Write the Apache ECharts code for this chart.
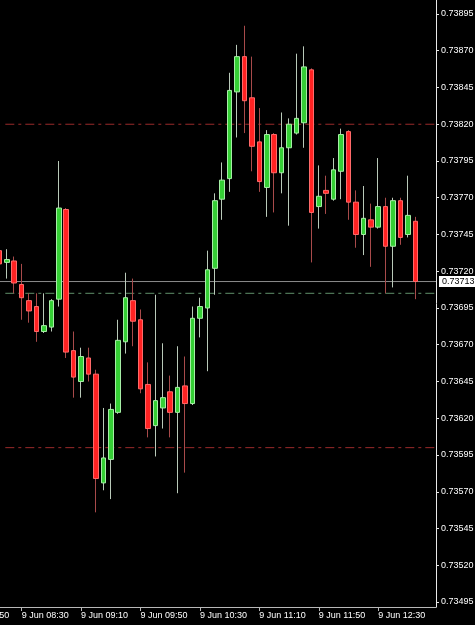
<!DOCTYPE html>
<html>
<head>
<meta charset="utf-8">
<script src="https://cdn.jsdelivr.net/npm/echarts@6/dist/echarts.min.js"></script>
<style>
html,body{margin:0;padding:0;background:#000;}
#c{width:475px;height:625px;}
</style>
</head>
<body>
<div id="c"></div>
<script>
// 5-minute bars, 9 Jun
const times = ['08:15','08:20','08:25','08:30','08:35','08:40','08:45','08:50','08:55','09:00',
  '09:05','09:10','09:15','09:20','09:25','09:30','09:35','09:40','09:45','09:50',
  '09:55','10:00','10:05','10:10','10:15','10:20','10:25','10:30','10:35','10:40',
  '10:45','10:50','10:55','11:00','11:05','11:10','11:15','11:20','11:25','11:30',
  '11:35','11:40','11:45','11:50','11:55','12:00','12:05','12:10','12:15','12:20',
  '12:25','12:30','12:35','12:40','12:45','12:50','12:55'];
const open = [0.73734,0.73726,0.73727,0.73711,0.73700,0.73696,0.73679,0.73682,0.73701,0.73762,
  0.73666,0.73645,0.73661,0.73650,0.73576,0.73592,0.73624,0.73672,0.73700,0.73687,
  0.73643,0.73615,0.73627,0.73638,0.73624,0.73642,0.73630,0.73688,0.73695,0.73722,
  0.73769,0.73783,0.73842,0.73866,0.73838,0.73808,0.73777,0.73813,0.73787,0.73804,
  0.73814,0.73821,0.73857,0.73764,0.73775,0.73769,0.73788,0.73815,0.73767,0.73745,
  0.73755,0.73750,0.73764,0.73737,0.73768,0.73745,0.73754];
const close = [0.73725,0.73728,0.73712,0.73702,0.73693,0.73679,0.73683,0.73700,0.73763,0.73665,
  0.73648,0.73662,0.73650,0.73579,0.73593,0.73626,0.73673,0.73702,0.73686,0.73640,
  0.73613,0.73632,0.73634,0.73624,0.73641,0.73630,0.73688,0.73696,0.73721,0.73768,
  0.73782,0.73843,0.73866,0.73836,0.73805,0.73781,0.73813,0.73787,0.73804,0.73820,
  0.73824,0.73859,0.73760,0.73771,0.73773,0.73789,0.73813,0.73767,0.73745,0.73756,
  0.73750,0.73764,0.73737,0.73768,0.73743,0.73758,0.73713];
const low = [0.73723,0.73715,0.73705,0.73687,0.73685,0.73672,0.73678,0.73679,0.73696,0.73661,
  0.73634,0.73634,0.73645,0.73556,0.73571,0.73565,0.73623,0.73664,0.73669,0.73637,
  0.73607,0.73594,0.73613,0.73607,0.73569,0.73583,0.73629,0.73675,0.73652,0.73704,
  0.73755,0.73774,0.73811,0.73814,0.73788,0.73774,0.73757,0.73760,0.73773,0.73751,
  0.73813,0.73804,0.73726,0.73749,0.73759,0.73768,0.73769,0.73755,0.73736,0.73731,
  0.73723,0.73749,0.73705,0.73709,0.73738,0.73743,0.73701];
const high = [0.73736,0.73735,0.73730,0.73725,0.73705,0.73705,0.73705,0.73701,0.73795,0.73763,
  0.73679,0.73668,0.73668,0.73653,0.73627,0.73630,0.73687,0.73719,0.73715,0.73694,
  0.73658,0.73704,0.73671,0.73649,0.73669,0.73662,0.73696,0.73702,0.73734,0.73773,
  0.73794,0.73855,0.73874,0.73887,0.73866,0.73831,0.73816,0.73814,0.73828,0.73824,
  0.73868,0.73873,0.73858,0.73792,0.73785,0.73797,0.73817,0.73816,0.73775,0.73778,
  0.73766,0.73797,0.73770,0.73770,0.73770,0.73785,0.73757];

const xTickLabels = ['9 Jun 07:50','9 Jun 08:30','9 Jun 09:10','9 Jun 09:50','9 Jun 10:30','9 Jun 11:10','9 Jun 11:50','9 Jun 12:30'];
const yTickLabels = ['0.73495','0.73520','0.73545','0.73570','0.73595','0.73620','0.73645','0.73670','0.73695',
  '0.73720','0.73745','0.73770','0.73795','0.73820','0.73845','0.73870','0.73895'];

const resistanceLevels = [0.73820, 0.73600];
const entryLevels = [0.73705];
const bidLevels = [0.73713];

const X_MIN = 465, X_MAX = 788.9;   // axis window in minutes
const DASH_START = 499;             // dashed level lines start slightly inside the left edge

const toMin = s => { const p = s.slice(-5).split(':'); return (+p[0]) * 60 + (+p[1]); };
const xs = times.map(toMin);
const xTickValues = xTickLabels.map(toMin);
const yTickValues = yTickLabels.map(Number);

const wickData = xs.map((x, i) => [x, open[i], close[i], low[i], high[i]]);
const bodyData = xs.map((x, i) => [x, open[i], close[i], Math.min(open[i], close[i]), Math.max(open[i], close[i])]);

const FONT = 'Liberation Sans';
const dashDot = [9, 4, 3, 4];

function levelSeries(v, color, type, start, withLabel) {
  const s = {
    type: 'line', data: [[start, v], [X_MAX, v]], symbol: 'none', silent: true, z: 1,
    lineStyle: {color: color, type: type, width: 1}, clip: true, animation: false
  };
  if (withLabel) {
    s.endLabel = {show: true, formatter: v.toFixed(5), distance: 3, color: '#000', backgroundColor: '#ffffff',
      padding: [1, 3, 1, 3], fontSize: 9, fontFamily: FONT};
  }
  return s;
}

const chart = echarts.init(document.getElementById('c'), null, {renderer: 'canvas'});
chart.setOption({
  backgroundColor: '#000000',
  animation: false,
  textStyle: {fontFamily: FONT},
  grid: {left: -45.2, right: 39, top: 0, bottom: 18, containLabel: false, outerBoundsMode: 'none'},
  xAxis: {
    type: 'value', min: X_MIN, max: X_MAX,
    splitLine: {show: false},
    axisLine: {show: true, lineStyle: {color: '#b8b8b8', width: 1}},
    axisTick: {show: true, length: 4, lineStyle: {color: '#b8b8b8'}, customValues: xTickValues},
    axisLabel: {
      show: true, customValues: xTickValues, align: 'left', margin: 4,
      color: '#ffffff', fontSize: 9, fontFamily: FONT,
      formatter: v => xTickLabels[xTickValues.indexOf(v)] || ''
    }
  },
  yAxis: {
    type: 'value', position: 'right', min: 0.734916, max: 0.7390452,
    splitLine: {show: false},
    axisLine: {show: true, lineStyle: {color: '#e8e8e8', width: 1}},
    axisTick: {show: true, length: 3, lineStyle: {color: '#e8e8e8'}, customValues: yTickValues},
    axisLabel: {
      show: true, customValues: yTickValues, margin: 5,
      color: '#ffffff', fontSize: 9, fontFamily: FONT,
      formatter: v => v.toFixed(5)
    }
  },
  series: [
    ...resistanceLevels.map(v => levelSeries(v, '#9a2a2a', dashDot, DASH_START, false)),
    ...entryLevels.map(v => levelSeries(v, '#5f8f6a', dashDot, DASH_START, false)),
    ...bidLevels.map(v => levelSeries(v, '#8c8c8c', 'solid', X_MIN, true)),
    {
      type: 'candlestick', name: 'wicks', data: wickData, barWidth: 1, z: 3,
      itemStyle: {color: '#b9c9b9', color0: '#a84a4a', borderColor: '#b9c9b9', borderColor0: '#a84a4a', borderWidth: 1},
      silent: true
    },
    {
      type: 'candlestick', name: 'EURUSD', data: bodyData, barWidth: 5, z: 4,
      itemStyle: {color: '#35cf35', color0: '#ff2222', borderColor: '#a6eea6', borderColor0: '#ff6a6a', borderWidth: 1},
      silent: true
    }
  ]
});
</script>
</body>
</html>
